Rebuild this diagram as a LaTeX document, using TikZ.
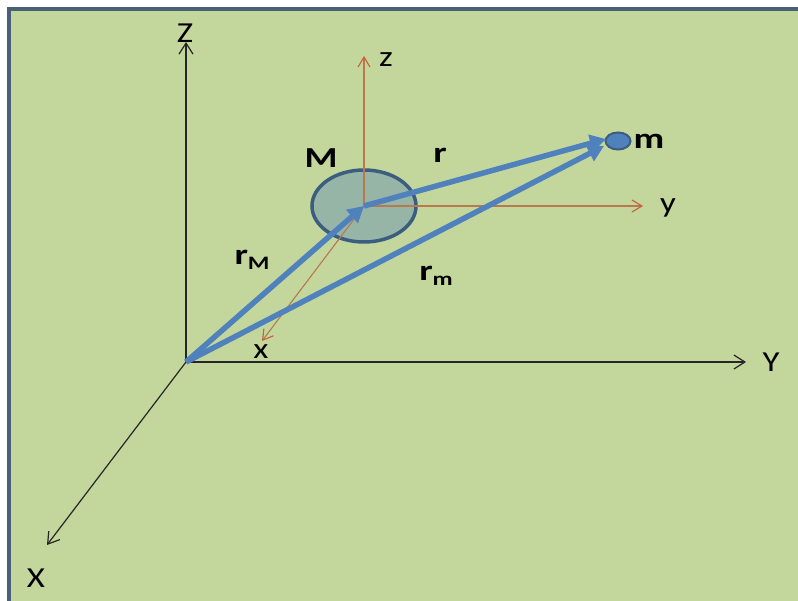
\documentclass[tikz,border=0pt]{standalone}
\usepackage{fontspec}
\setmainfont{Carlito}
\usetikzlibrary{arrows.meta,shapes.geometric}
\definecolor{bggreen}{HTML}{C3D69B}
\definecolor{framec}{HTML}{4A5F78}
\definecolor{vecblue}{HTML}{4F81BD}
\definecolor{darkblue}{HTML}{3B5E80}
\definecolor{brownax}{HTML}{B87850}
\definecolor{massfill}{HTML}{97B5A7}
\tikzset{
  mainaxis/.style={draw=black!85, line width=1.2pt, -{Straight Barb[length=11pt,width=14pt]}},
  bodyaxis/.style={draw=brownax, line width=1.1pt, -{Straight Barb[length=10pt,width=12pt,color=brownax!80!red]}},
  vec/.style={draw=vecblue, line width=5.5pt, -{Triangle[length=16pt,width=17pt]}},
  axlabel/.style={font=\fontsize{29}{32}\selectfont, inner sep=0pt, xscale=1.2, transform shape},
  vlabel/.style={font=\fontsize{29}{32}\selectfont\bfseries, inner sep=0pt, xscale=1.3, transform shape},
}
\newcommand{\subs}[1]{\raisebox{-5pt}{\fontsize{19}{19}\selectfont #1}}
\begin{document}
\begin{tikzpicture}[x=1pt,y=-1pt]
\useasboundingbox (0,0) rectangle (798,601);
\fill[white] (0,0) rectangle (798,601);
\fill[bggreen] (9,9) rectangle (798,601);
\draw[framec, line width=4pt] (9,601) -- (9,9) -- (798,9);

% main frame
\coordinate (O) at (186,362);
\coordinate (Zt) at (186,42);
\coordinate (Yt) at (746,362);
\coordinate (Xt) at (47,545);
\draw[mainaxis] (O) -- (Zt);
\draw[mainaxis] (O) -- (Yt);
\draw[mainaxis] (O) -- (Xt);
\node[axlabel] (Zl) at (185,33) {Z};
\node[axlabel] (Yl) at (771,362) {Y};
\node[axlabel] (Xl) at (36,578) {X};

% body M
\node[ellipse, draw=darkblue, line width=3.5pt, fill=massfill,
      minimum width=104pt, minimum height=72pt, inner sep=0pt] (M) at (364,206) {};

% body frame
\coordinate (zt) at (364,56);
\coordinate (yt) at (643,206);
\coordinate (xt) at (262,341);
\draw[bodyaxis] (M.center) -- (zt);
\draw[bodyaxis] (M.center) -- (yt);
\draw[bodyaxis] (M.center) -- (xt);
\node[axlabel] (zl) at (386,60) {z};
\node[axlabel, anchor=base] (yl) at (668,213) {y};
\node[axlabel] (xl) at (261,352) {x};

% small mass m
\node[ellipse, draw=darkblue, line width=2pt, fill=vecblue,
      minimum width=25pt, minimum height=17pt, inner sep=0pt] (m) at (618,141) {};

% vectors
\coordinate (rtip) at (606,139);
\coordinate (rmtip) at (604,146);
\draw[vec] (O) -- (M.center);
\draw[vec] (O) -- (rmtip);
\draw[vec] (M.center) -- (rtip);

% labels
\node[vlabel] (Ml) at (321,158) {M};
\node[vlabel] (ml) at (649,141) {m};
\node[vlabel] (rl) at (440,155) {r};
\node[vlabel] (rMl) at (252,260) {r\subs{M}};
\node[vlabel] (rml) at (436,276) {r\subs{m}};
\end{tikzpicture}
\end{document}
